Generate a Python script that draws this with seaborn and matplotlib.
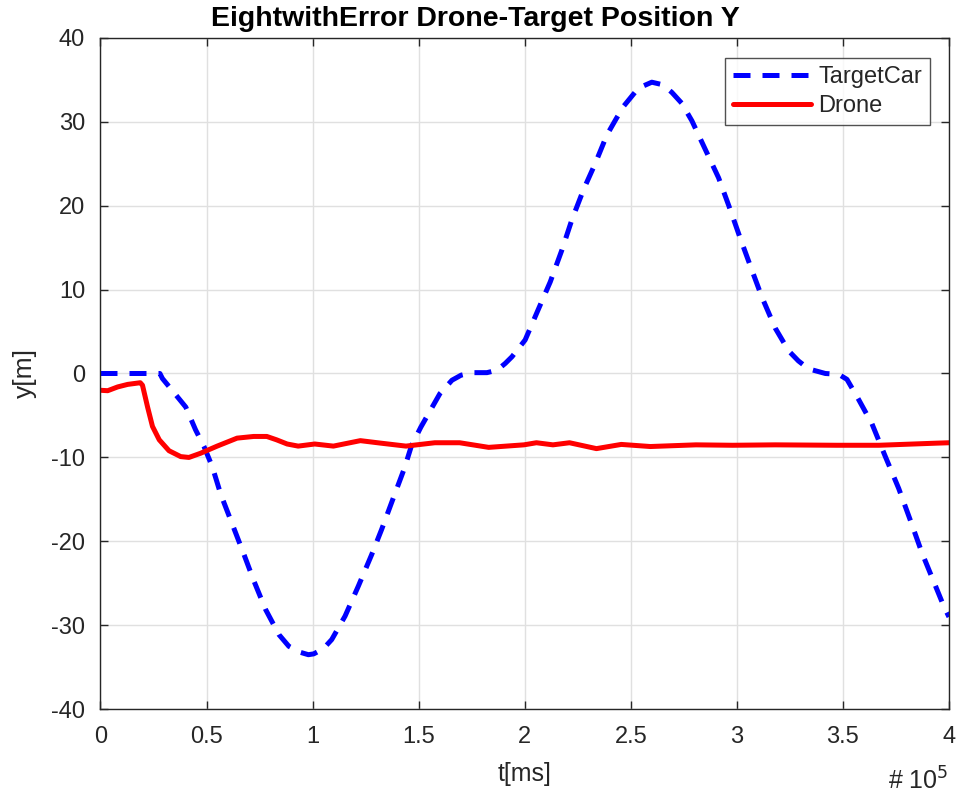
import numpy as np
import pandas as pd
import matplotlib
matplotlib.use('Agg')
import matplotlib.pyplot as plt
import seaborn as sns

# t in units of 1e5 ms
target_t = [0, 0.1, 0.2, 0.28, 0.292, 0.331, 0.402, 0.448, 0.488, 0.527, 0.567, 0.622, 0.677,
            0.723, 0.778, 0.841, 0.888, 0.94, 0.98, 1.005, 1.05, 1.09, 1.153, 1.216, 1.278,
            1.325, 1.372, 1.434, 1.466, 1.51, 1.555, 1.6, 1.657, 1.70, 1.751, 1.822, 1.87,
            1.908, 1.94, 2.002, 2.065, 2.12, 2.175, 2.222, 2.277, 2.332, 2.387, 2.43, 2.465,
            2.536, 2.599, 2.65, 2.693, 2.74, 2.788, 2.851, 2.914, 2.969, 3.016, 3.071, 3.118,
            3.181, 3.244, 3.29, 3.338, 3.417, 3.48, 3.519, 3.574, 3.637, 3.70, 3.763, 3.818,
            3.873, 3.92, 3.975, 4.0]
target_y = [0, 0, 0, 0, -0.6, -1.8, -4.0, -6.7, -8.7, -11.1, -14.4, -18, -21.6,
            -24.7, -28.1, -31.1, -32.5, -33.2, -33.5, -33.4, -32.8, -31.7, -28.9, -25.3, -21.6,
            -18.6, -15.4, -11.2, -8.6, -6.4, -4.4, -2.4, -0.8, -0.2, 0.1, 0.1, 0.4,
            1.2, 2.0, 4.0, 7.7, 10.9, 14.7, 18.3, 21.9, 25.0, 28.4, 30.3, 31.8,
            34.0, 34.7, 34.4, 33.5, 32.2, 30.1, 26.7, 23.3, 19.5, 16.1, 12.3, 9.1,
            5.4, 2.7, 1.5, 0.55, 0, -0.1, -0.7, -3.1, -6.0, -9.9, -13.7, -17.5,
            -21.4, -24.3, -27.7, -29]

drone_t = [0, 0.034, 0.081, 0.128, 0.1875, 0.198, 0.222, 0.245, 0.277, 0.323, 0.378, 0.417,
           0.472, 0.55, 0.644, 0.722, 0.784, 0.83, 0.88, 0.932, 1.01, 1.098, 1.225, 1.322,
           1.44, 1.576, 1.693, 1.83, 1.996, 2.055, 2.133, 2.211, 2.338, 2.455, 2.592, 2.807,
           2.98, 3.18, 3.47, 3.67, 3.94, 4.0]
drone_y = [-2.0, -2.05, -1.6, -1.3, -1.1, -1.4, -4.0, -6.3, -7.9, -9.2, -9.9, -10.0,
           -9.5, -8.65, -7.7, -7.5, -7.5, -7.9, -8.4, -8.65, -8.4, -8.65, -8.0, -8.3,
           -8.65, -8.25, -8.25, -8.8, -8.5, -8.25, -8.5, -8.25, -8.95, -8.45, -8.7, -8.5,
           -8.55, -8.5, -8.55, -8.55, -8.3, -8.25]

xtick_labels = ['0', '0.5', '1', '1.5', '2', '2.5', '3', '3.5', '4']

df = pd.concat([
    pd.DataFrame({'t': target_t, 'y': target_y, 'series': 'TargetCar'}),
    pd.DataFrame({'t': drone_t, 'y': drone_y, 'series': 'Drone'}),
])

sns.set_theme(style='ticks')
plt.rcParams['font.family'] = ['Liberation Sans', 'DejaVu Sans']
plt.rcParams['axes.unicode_minus'] = False

fig = plt.figure(figsize=(9.58, 7.99), dpi=100)
ax = fig.add_axes([0.1049, 0.1123, 0.8857, 0.8405])

sns.lineplot(data=df, x='t', y='y', hue='series', style='series',
             palette={'TargetCar': '#0000ff', 'Drone': '#ff0000'},
             dashes={'TargetCar': (3.4, 2.4), 'Drone': ''},
             linewidth=3.6, ax=ax, sort=False)
for ln in ax.lines:
    ln.set_solid_joinstyle('round')
    ln.set_dash_joinstyle('round')

ax.set_xlim(0, 4)
ax.set_ylim(-40, 40)
ax.set_xticks(np.arange(0, 4.01, 0.5))
ax.set_xticklabels(xtick_labels)
ax.set_yticks(np.arange(-40, 41, 10))
ax.grid(True, color='#e0e0e0', linewidth=1)
ax.tick_params(direction='in', labelsize=17, colors='#262626', length=6, width=1,
               top=True, right=True)
ax.tick_params(axis='x', pad=12)
ax.tick_params(axis='y', pad=11)
for s in ax.spines.values():
    s.set_visible(True)
    s.set_color('#262626')
    s.set_linewidth(1)

ax.set_xlabel('t[ms]', fontsize=18, color='#262626', labelpad=10)
ax.set_ylabel('y[m]', fontsize=19, color='#262626', labelpad=10)
fig.text(0.496, 0.9675, 'EightwithError Drone-Target Position Y', ha='center', va='baseline',
         fontsize=20.5, fontweight='bold', color='black')
fig.text(0.99, 0.006, '# 10$^{5}$', ha='right', va='bottom', fontsize=18, color='#262626')

leg = ax.legend(loc='upper right', fontsize=17, frameon=True, fancybox=False,
                bbox_to_anchor=(0.978, 0.97), borderaxespad=0,
                handlelength=3.3, handletextpad=0.3,
                labelspacing=0.3, borderpad=0.35)
leg.get_frame().set_edgecolor('#262626')
leg.get_frame().set_linewidth(1)

fig.savefig('out.png', dpi=100)
